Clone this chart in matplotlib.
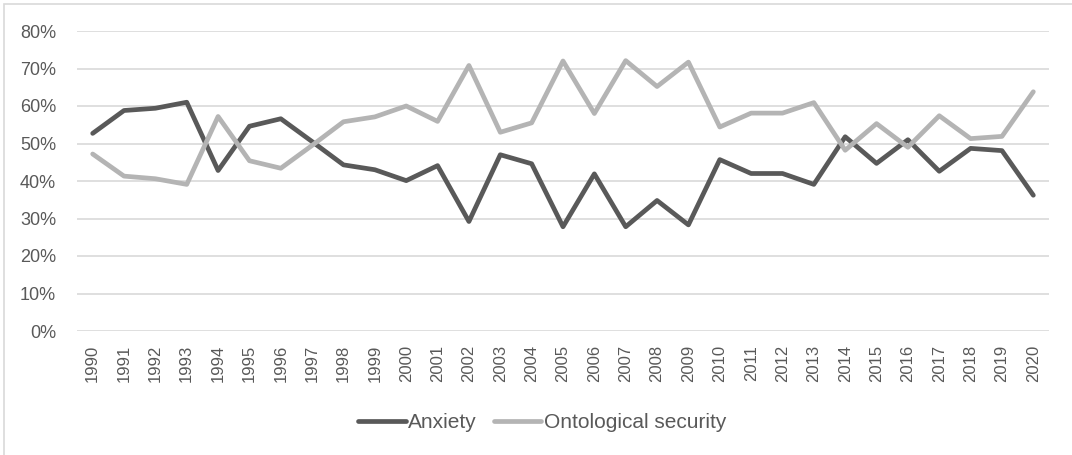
# Anxiety vs ontological security, 1990-2020 (line chart, Excel-like style)

import matplotlib.pyplot as plt
from matplotlib.patches import Rectangle
from matplotlib.ticker import PercentFormatter

years = [str(y) for y in range(1990, 2021)]

anxiety = [52.7, 58.8, 59.4, 61.0, 42.8, 54.6, 56.6, 50.5, 44.3, 43.0,
           40.1, 44.1, 29.2, 47.0, 44.6, 27.8, 41.9, 27.8, 34.8, 28.3,
           45.7, 42.0, 42.0, 39.1, 51.8, 44.7, 51.0, 42.6, 48.7, 48.1,
           36.2]

ontological = [47.2, 41.3, 40.6, 39.1, 57.2, 45.4, 43.4, 49.5, 55.8, 57.1,
               60.0, 55.9, 70.8, 53.0, 55.5, 72.0, 58.0, 72.1, 65.2, 71.7,
               54.4, 58.1, 58.1, 60.9, 48.2, 55.3, 49.0, 57.4, 51.3, 51.9,
               63.8]

plt.rcParams['font.family'] = ['Liberation Sans', 'DejaVu Sans']

TEXT = "#595959"
GRID = "#d9d9d9"


def main():
    fig = plt.figure(figsize=(10.72, 4.55), dpi=100)
    ax = fig.add_axes([77 / 1072, 1 - 331 / 455, (1049 - 77) / 1072, 300 / 455])

    x = list(range(len(years)))
    ax.plot(x, [v / 100 for v in anxiety], color="#595959", lw=3.4,
            solid_joinstyle="round", solid_capstyle="round", label="Anxiety")
    ax.plot(x, [v / 100 for v in ontological], color="#b4b4b4", lw=3.4,
            solid_joinstyle="round", solid_capstyle="round", label="Ontological security")

    ax.set_xlim(-0.5, len(years) - 0.5)
    ax.set_ylim(0, 0.8)
    ax.set_yticks([i / 10 for i in range(9)])
    ax.yaxis.set_major_formatter(PercentFormatter(1.0, decimals=0))
    ax.set_xticks(x)
    ax.set_xticklabels(years, rotation=90)

    ax.grid(axis="y", color=GRID, lw=1.2)
    ax.set_axisbelow(True)
    for s in ax.spines.values():
        s.set_visible(False)
    ax.tick_params(axis="both", length=0, colors=TEXT)
    ax.tick_params(axis="y", pad=15, labelsize=13)
    ax.tick_params(axis="x", pad=10, labelsize=12)

    leg = fig.legend(loc="center", bbox_to_anchor=(542 / 1072, 1 - 423 / 455),
                     ncol=2, frameon=False, fontsize=15, handlelength=2.3,
                     handletextpad=0.1, columnspacing=0.8)
    for t in leg.get_texts():
        t.set_color(TEXT)

    # light chart-area border
    fig.patches.append(Rectangle((4 / 1072, -0.02), 1.0, 1 - 4 / 455 + 0.02,
                                 transform=fig.transFigure, fill=False,
                                 edgecolor=GRID, lw=1.2))

    fig.savefig("out.png", dpi=100)
    plt.close(fig)


if __name__ == "__main__":
    main()
